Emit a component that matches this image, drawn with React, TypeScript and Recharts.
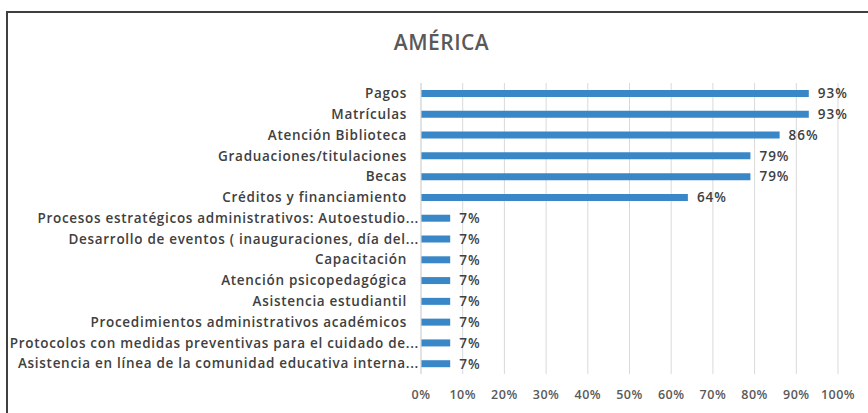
import { Bar, BarChart, CartesianGrid, LabelList, XAxis, YAxis } from "recharts";

const categories = [
  "Pagos",
  "Matrículas",
  "Atención Biblioteca",
  "Graduaciones/titulaciones",
  "Becas",
  "Créditos y financiamiento",
  "Procesos estratégicos administrativos: Autoestudio...",
  "Desarrollo de eventos ( inauguraciones, día del...",
  "Capacitación",
  "Atención psicopedagógica",
  "Asistencia estudiantil",
  "Procedimientos administrativos académicos",
  "Protocolos con medidas preventivas para el cuidado de...",
  "Asistencia en línea de la comunidad educativa interna...",
];
const percents = [93, 93, 86, 79, 79, 64, 7, 7, 7, 7, 7, 7, 7, 7];
const xTicks = [0, 10, 20, 30, 40, 50, 60, 70, 80, 90, 100];

const data = categories.map((name, i) => ({ name, value: percents[i] }));

const FONT = "'Open Sans', Lato, sans-serif";

// Excel pulls the truncated ("...") labels closer to the axis
function CategoryTick(props: any) {
  const { x, y, payload } = props;
  const label: string = payload.value;
  const gap = label.endsWith("...") ? 2 : 14;
  return (
    <text
      x={x - gap}
      y={y}
      dy="0.355em"
      textAnchor="end"
      fill="#404040"
      fontSize={13.5}
      fontWeight={600}
      fontFamily={FONT}
      letterSpacing={0.7}
    >
      {label}
    </text>
  );
}

export default function App() {
  return (
    <div style={{ position: "absolute", left: 0, top: 0, width: 868, height: 413, overflow: "hidden", background: "#fff", fontFamily: FONT }}>
      <div style={{ position: "absolute", left: 6, top: 11, width: 900, height: 430, borderTop: "2px solid #3f3f3f", borderLeft: "2px solid #3f3f3f", boxSizing: "border-box" }} />
      <div style={{ position: "absolute", left: 0, width: 883, top: 28, textAlign: "center", fontSize: 21, fontWeight: 600, letterSpacing: 0.5, color: "#595959" }}>
        AMÉRICA
      </div>
      <BarChart
        width={868}
        height={413}
        data={data}
        layout="vertical"
        margin={{ top: 83, right: 30, bottom: 9, left: 0 }}
        style={{ position: "absolute", left: 0, top: 0 }}
      >
        <CartesianGrid horizontal={false} stroke="#d9d9d9" />
        <XAxis
          type="number"
          domain={[0, 100]}
          ticks={xTicks}
          tickFormatter={(v) => `${v}%`}
          axisLine={false}
          tickLine={false}
          tickSize={0}
          tickMargin={16}
          height={30}
          tick={{ fill: "#595959", fontSize: 12.5, fontWeight: 600, fontFamily: FONT, letterSpacing: 0.5 }}
        />
        <YAxis
          type="category"
          dataKey="name"
          width={421}
          interval={0}
          axisLine={{ stroke: "#d9d9d9" }}
          tickLine={false}
          tickSize={0}
          tickMargin={0}
          tick={CategoryTick}
        />
        <Bar dataKey="value" fill="#3a87c8" barSize={7} isAnimationActive={false}>
          <LabelList
            dataKey="value"
            position="right"
            offset={9}
            formatter={(v: number) => `${v}%`}
            fill="#404040"
            fontSize={13.5}
            fontWeight={600}
            fontFamily={FONT}
            letterSpacing={1}
          />
        </Bar>
      </BarChart>
    </div>
  );
}
